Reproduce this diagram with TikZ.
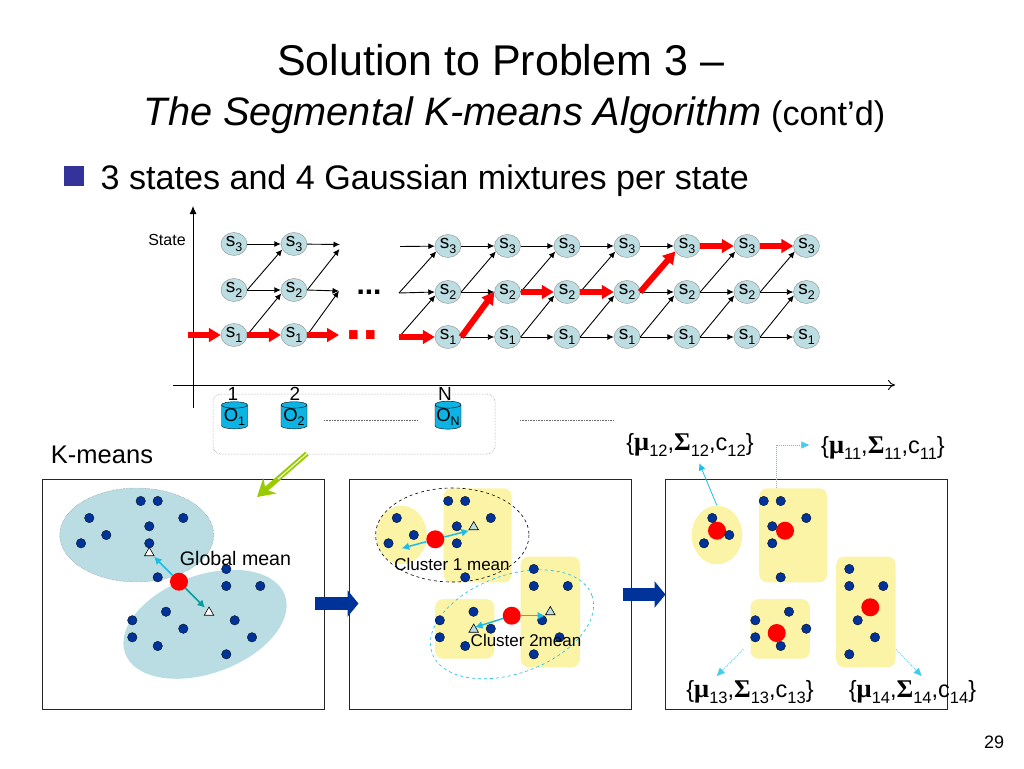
\documentclass[tikz,border=0pt]{standalone}
\usepackage{fontspec}
\setmainfont{Liberation Sans}
\newfontfamily\symfont{Liberation Serif}
\usetikzlibrary{arrows.meta,shapes.geometric}
\definecolor{statefill}{HTML}{BCDDE1}
\definecolor{clusterfill}{HTML}{B9DDE2}
\definecolor{yellowfill}{HTML}{FBF3A6}
\definecolor{dotblue}{HTML}{003399}
\definecolor{bulletblue}{HTML}{333399}
\definecolor{arrowcyan}{HTML}{1BBDE8}
\definecolor{arrowteal}{HTML}{089C9C}
\definecolor{grassgreen}{HTML}{99CC00}
\definecolor{cylfill}{HTML}{0DB4E3}
\newcommand{\fsz}[1]{\fontsize{#1}{#1}\selectfont}
\newcommand{\lowsub}[2]{\raisebox{-0.45ex}{\fsz{#1}#2}}
\newcommand{\param}[1]{\{{\fsz{26.5}\symfont\bfseries μ}\lowsub{16.5}{#1},{\fsz{25.5}\symfont\bfseries Σ}\lowsub{16.5}{#1},c\lowsub{16.5}{#1}\}}
\def\dotlist{140.7/501,157.7/501,89.3/518,183.3/518,149.3/526.3,106.3/535,81/543.3,149.3/543.3,157.7/577.3,226.3/569,226.3/586,260.3/586,166/611.7,132.3/620.3,132.3/637.3,183.3/628.7,157.7/646,234.7/620.3,252/637.3,226.3/654.3}
\begin{document}
\begin{tikzpicture}[x=1pt,y=-1pt]
    \tikzstyle{state}=[ellipse,draw=black!45,fill=statefill,minimum width=26pt,minimum height=23pt,inner sep=0pt,font=\fsz{19}]
    \tikzstyle{flow}=[-{Latex[length=6.5pt,width=6pt]},black,line width=0.9pt]
    \tikzstyle{redflow}=[-{Triangle[length=12pt,width=13.5pt]},red,line width=6pt]
    \tikzstyle{cyl}=[cylinder,shape border rotate=90,aspect=0.3,draw=black,fill=cylfill,minimum width=26pt,minimum height=27pt,inner sep=0pt,font=\fsz{18.5}]
    \tikzstyle{panel}=[rectangle,draw=black!85,line width=0.9pt,fill=white,inner sep=0pt]
    \tikzstyle{vertex}=[circle,fill=dotblue,draw=black,line width=0.3pt,minimum size=9.5pt,inner sep=0pt]
    \tikzstyle{mean}=[circle,fill=red,minimum size=18pt,inner sep=0pt]
    \tikzstyle{tri}=[regular polygon,regular polygon sides=3,draw=black,line width=0.6pt,minimum size=11pt,inner sep=0pt]
    \tikzstyle{meanarrow}=[-{Latex[length=7.5pt,width=8pt]},arrowcyan,line width=1.5pt]
    \tikzstyle{lightdots}=[-{Triangle[length=8pt,width=7pt]},arrowcyan!80,dash pattern=on 1pt off 1pt,line width=0.7pt]
    \tikzstyle{bluearrow}=[-{Triangle[length=11pt,width=26pt]},dotblue,line width=12.5pt]
    \tikzstyle{yellowbox}=[fill=yellowfill,rounded corners=8pt]
    \useasboundingbox (0,0) rectangle (1024,768);

    % title and bullet
    \node[font=\fsz{43}] (title1) at (500.5,60) {Solution to Problem 3 –};
    \node[font=\fsz{34.2}] (title2) at (514.5,115.5) {{\fsz{39.7}\itshape The Segmental K-means Algorithm} (cont’d)};
    \node[rectangle,fill=bulletblue,minimum size=20pt,inner sep=0pt] (bullet) at (74,176) {};
    \node[anchor=west,font=\fsz{34.1},inner sep=0pt] (bullettext) at (100.5,180.5) {3 states and 4 Gaussian mixtures per state};

    % axes
    \coordinate (ybot) at (193,408);
    \coordinate (ytop) at (193,206);
    \coordinate (xleft) at (173,385);
    \coordinate (xright) at (895,385);
    \draw[-{Latex[length=8pt,width=7pt]},line width=0.9pt] (ybot) -- (ytop);
    \draw[-{To[length=7pt,width=10pt]},line width=0.9pt] (xleft) -- (xright);
    \node[font=\fsz{16},inner sep=0pt] (statelabel) at (167,240) {State};
    \node[font=\fsz{19},inner sep=0pt] (t1) at (233,394) {1};
    \node[font=\fsz{19},inner sep=0pt] (t2) at (295,394) {2};
    \node[font=\fsz{19},inner sep=0pt] (tn) at (445,394) {N};

    % lattice
    \foreach \cn/\cx in {1/234,2/294} {
      \node[state] (s3-\cn) at (\cx,244) {s\lowsub{12.5}{3}};
      \node[state] (s2-\cn) at (\cx,290) {s\lowsub{12.5}{2}};
      \node[state] (s1-\cn) at (\cx,335) {s\lowsub{12.5}{1}};
    }
    \foreach \cn/\cx in {3/448,4/507.5,5/567,6/627,7/687,8/747,9/806.5} {
      \node[state] (s3-\cn) at (\cx,246) {s\lowsub{12.5}{3}};
      \node[state] (s2-\cn) at (\cx,292) {s\lowsub{12.5}{2}};
      \node[state] (s1-\cn) at (\cx,337) {s\lowsub{12.5}{1}};
    }
    % free ends
    \coordinate (e3) at (340,244.5);
    \coordinate (e3d) at (339.5,249);
    \coordinate (e2) at (339,291);
    \coordinate (e1) at (339,335);
    \coordinate (b3) at (400,246.5);
    \coordinate (b2) at (399,293);
    \coordinate (b1) at (399,337);
    \coordinate (b0) at (188,335);

    \draw[flow] (s3-1) -- (s3-2);
    \draw[flow] (s2-1.east) -- (s2-2.west);
    \draw[flow] (s2-1.east) -- (s3-2.205);
    \draw[flow] (s1-1.east) -- (s2-2.195);
    \draw[flow] (s3-2) -- (e3);
    \draw[flow] (s2-2.east) -- (e2);
    \draw[flow] (s2-2.east) -- (e3d);
    \draw[flow] (s1-2.east) -- (e2);
    \draw[flow] (b3) -- (s3-3);
    \draw[flow] (b2) -- (s2-3.west);
    \draw[flow] (b2) -- (s3-3.205);
    \draw[flow] (b1) -- (s2-3.195);
    \foreach \a/\b in {3/4,4/5,5/6,6/7} \draw[flow] (s3-\a) -- (s3-\b);
    \foreach \a/\b in {3/4,6/7,7/8,8/9} \draw[flow] (s2-\a.east) -- (s2-\b.west);
    \foreach \a/\b in {3/4,4/5,5/6,6/7,7/8,8/9} \draw[flow] (s1-\a) -- (s1-\b);
    \foreach \a/\b in {4/5,5/6,6/7,7/8,8/9} \draw[flow] (s1-\a.east) -- (s2-\b.195);
    \foreach \a/\b in {3/4,4/5,5/6,7/8,8/9} \draw[flow] (s2-\a.east) -- (s3-\b.205);

    \draw[redflow] (b0) -- (s1-1.west);
    \draw[redflow] (s1-1.east) -- (s1-2.west);
    \draw[redflow] (s1-2.east) -- (e1);
    \draw[redflow] (b1) -- (s1-3.west);
    \draw[redflow] (s1-3.east) -- (s2-4.west);
    \draw[redflow] (s2-4.east) -- (s2-5.west);
    \draw[redflow] (s2-5.east) -- (s2-6.west);
    \draw[redflow] (s2-6.east) -- (s3-7.205);
    \draw[redflow] (s3-7.east) -- (s3-8.west);
    \draw[redflow] (s3-8.east) -- (s3-9.west);
    \node[font=\fsz{30}\bfseries,inner sep=0pt] (dotsblack) at (369,292) {...};
    \node[font=\fsz{60}\bfseries,red,inner sep=0pt] (dotsred) at (362.5,335.5) {..};

    % observations
    \node[rectangle,draw=black!45,densely dotted,rounded corners=8pt,minimum width=282pt,minimum height=60pt,inner sep=0pt,line width=0.5pt] (obsbox) at (354,424) {};
    \node[cyl] (o1) at (234.5,417) {O\lowsub{12.5}{1}};
    \node[cyl] (o2) at (294,417) {O\lowsub{12.5}{2}};
    \node[cyl] (on) at (448,417) {O\lowsub{12.5}{N}};
    \coordinate (d1a) at (324,420);
    \coordinate (d1b) at (418,420);
    \coordinate (d2a) at (520,420);
    \coordinate (d2b) at (614,420);
    \draw[black!60,densely dotted,line width=0.6pt] (d1a) -- (d1b);
    \draw[black!60,densely dotted,line width=0.6pt] (d2a) -- (d2b);

    % panels
    \node[font=\fsz{25.5},inner sep=0pt] (kmeans) at (102,455) {K-means};
    \node[panel,minimum width=282pt,minimum height=230pt] (pa) at (183.5,594.5) {};
    \node[panel,minimum width=282pt,minimum height=230pt] (pb) at (490.5,594.5) {};
    \node[panel,minimum width=282pt,minimum height=230pt] (pc) at (806,594.5) {};

    \coordinate (ga) at (307,453.5);
    \coordinate (gb) at (257,497);
    \coordinate (gm) at (278,479);
    \draw[-{Stealth[length=17pt,width=20pt]},grassgreen,line width=5pt] (ga) -- (gb);
    \draw[white,line width=1pt] (ga) -- (gm);

    \coordinate (ba) at (315,603.5);
    \coordinate (bb) at (358.5,603.5);
    \coordinate (ca) at (622.5,594.5);
    \coordinate (cb) at (665.5,594.5);
    \draw[bluearrow] (ba) -- (bb);
    \draw[bluearrow] (ca) -- (cb);

    % clusters
    \fill[clusterfill,draw=black!50,densely dotted,line width=0.4pt] (136.7,535) ellipse [x radius=77,y radius=47];
    \fill[clusterfill,rotate around={20:(205,624.3)}] (205,624.3) ellipse [x radius=85,y radius=49];
    \foreach \sx in {0,315.5} {
      \fill[yellowfill] (401.5+\sx,535) ellipse [x radius=25.3,y radius=29.3];
      \fill[yellowbox] (443.7+\sx,488.3) rectangle (511.7+\sx,582.3);
      \fill[yellowbox] (520.7+\sx,556.5) rectangle (580+\sx,667.3);
      \fill[yellowbox] (435+\sx,599.2) rectangle (494.3+\sx,658.7);
    }
    \draw[black,dashed,line width=0.6pt] (452.3,535) ellipse [x radius=76.7,y radius=47];
    \draw[arrowcyan,dashed,line width=0.6pt,rotate around={20:(512,624.3)}] (512,624.3) ellipse [x radius=85,y radius=49];

    % means
    \node[mean] (ma) at (179,581.7) {};
    \node[mean] (mb1) at (435.3,539.3) {};
    \node[mean] (mb2) at (511.7,615.7) {};
    \node[mean] (mc1) at (717,530.7) {};
    \node[mean] (mc2) at (785,530.7) {};
    \node[mean] (mc3) at (870.3,607.3) {};
    \node[mean] (mc4) at (776.7,633) {};

    % data points
    \foreach \pn/\sx in {a/0,b/307.5,c/623}
      \foreach \px/\py [count=\i] in \dotlist
        \node[vertex] (\pn\i) at (\px+\sx,\py) {};

    % triangles
    \node[tri,fill=white] (ta1) at (149.3,553) {};
    \node[tri,fill=white] (ta2) at (209,612.5) {};
    \node[tri,fill=statefill] (tb1) at (473.7,527) {};
    \node[tri,fill=statefill] (tb2) at (550.3,612) {};
    \node[tri,fill=statefill] (tb3) at (473.7,629.5) {};

    \coordinate (tipa1) at (154,556.7);
    \coordinate (tipa2) at (205,607.7);
    \coordinate (tipb0) at (401.7,548.3);
    \coordinate (tipb1) at (469,530.7);
    \coordinate (tipb2) at (545,615.7);
    \coordinate (tipb3) at (475,627.3);
    \draw[meanarrow] (ma) -- (tipa1);
    \draw[meanarrow,arrowteal] (ma) -- (tipa2);
    \draw[meanarrow] (mb1) -- (tipb0);
    \draw[meanarrow] (mb1) -- (tipb1);
    \draw[meanarrow] (mb2) -- (tipb2);
    \draw[meanarrow] (mb2) -- (tipb3);

    \node[font=\fsz{19.6},inner sep=0pt] (globalmean) at (235.5,558) {Global mean};
    \node[font=\fsz{17},inner sep=0pt] (cluster1) at (452,564) {Cluster 1 mean};
    \node[font=\fsz{17},inner sep=0pt] (cluster2) at (526,640) {Cluster 2mean};

    % parameters
    \node[font=\fsz{23.5},inner sep=0pt] (mu12) at (690,445) {\param{12}};
    \node[font=\fsz{23.5},inner sep=0pt] (mu11) at (883,448) {\param{11}};
    \node[font=\fsz{23.5},inner sep=0pt] (mu13) at (750,692) {\param{13}};
    \node[font=\fsz{23.5},inner sep=0pt] (mu14) at (912.5,692) {\param{14}};
    \coordinate (q12) at (716.7,505);
    \coordinate (p12) at (699.3,463.3);
    \coordinate (q11) at (776.7,488.3);
    \coordinate (k11) at (776.7,445);
    \coordinate (p11) at (809.3,445);
    \coordinate (q13) at (743.3,649.3);
    \coordinate (p13) at (716.7,676);
    \coordinate (q14) at (896,649.3);
    \coordinate (p14) at (921.7,676);
    \draw[-{Latex[length=7pt,width=7pt]},arrowcyan,line width=0.8pt] (q12) -- (p12);
    \draw[lightdots] (q11) -- (k11) -- (p11);
    \draw[lightdots] (q13) -- (p13);
    \draw[lightdots] (q14) -- (p14);

    \node[font=\fsz{18},inner sep=0pt] (pagenum) at (994,742) {29};
\end{tikzpicture}
\end{document}
